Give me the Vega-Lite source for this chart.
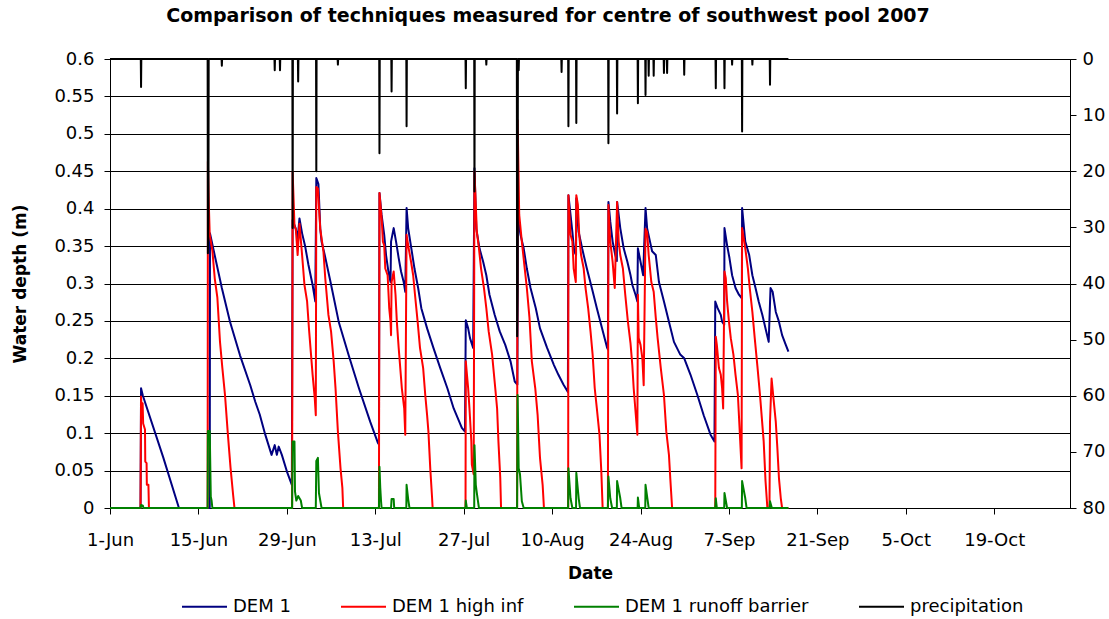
{
"$schema": "https://vega.github.io/schema/vega-lite/v6.json",
"width": 960,
"height": 449,
"autosize": {"type": "none"},
"padding": {"left": 110, "top": 59, "right": 39, "bottom": 111},
"background": "white",
"title": {"text": "Comparison of techniques measured for centre of southwest pool 2007", "font": "DejaVu Sans", "fontSize": 19, "fontWeight": "bold", "color": "black", "anchor": "middle", "dx": -42, "offset": 24},
"datasets": {
"blue": [
{"date":"2007-06-01T00:00","series":"DEM 1","depth":0},
{"date":"2007-06-05T20:00","series":"DEM 1","depth":0},
{"date":"2007-06-05T22:00","series":"DEM 1","depth":0.160},
{"date":"2007-06-06T00:00","series":"DEM 1","depth":0.157},
{"date":"2007-06-06T05:00","series":"DEM 1","depth":0.150},
{"date":"2007-06-09T10:00","series":"DEM 1","depth":0.068},
{"date":"2007-06-11T22:00","series":"DEM 1","depth":0},
{"date":"2007-06-16T19:00","series":"DEM 1","depth":0},
{"date":"2007-06-16T20:00","series":"DEM 1","depth":0.367},
{"date":"2007-06-17T10:00","series":"DEM 1","depth":0.344},
{"date":"2007-06-18T17:00","series":"DEM 1","depth":0.294},
{"date":"2007-06-20T00:00","series":"DEM 1","depth":0.249},
{"date":"2007-06-21T14:00","series":"DEM 1","depth":0.204},
{"date":"2007-06-23T05:00","series":"DEM 1","depth":0.164},
{"date":"2007-06-24T00:00","series":"DEM 1","depth":0.142},
{"date":"2007-06-24T17:00","series":"DEM 1","depth":0.125},
{"date":"2007-06-25T14:00","series":"DEM 1","depth":0.098},
{"date":"2007-06-26T14:00","series":"DEM 1","depth":0.071},
{"date":"2007-06-27T02:00","series":"DEM 1","depth":0.084},
{"date":"2007-06-27T10:00","series":"DEM 1","depth":0.071},
{"date":"2007-06-27T17:00","series":"DEM 1","depth":0.082},
{"date":"2007-06-28T05:00","series":"DEM 1","depth":0.071},
{"date":"2007-06-29T00:00","series":"DEM 1","depth":0.049},
{"date":"2007-06-29T19:00","series":"DEM 1","depth":0.031},
{"date":"2007-06-29T22:00","series":"DEM 1","depth":0.385},
{"date":"2007-06-30T10:00","series":"DEM 1","depth":0.373},
{"date":"2007-06-30T17:00","series":"DEM 1","depth":0.360},
{"date":"2007-07-01T00:00","series":"DEM 1","depth":0.387},
{"date":"2007-07-01T10:00","series":"DEM 1","depth":0.367},
{"date":"2007-07-01T22:00","series":"DEM 1","depth":0.349},
{"date":"2007-07-02T10:00","series":"DEM 1","depth":0.325},
{"date":"2007-07-03T02:00","series":"DEM 1","depth":0.298},
{"date":"2007-07-03T12:00","series":"DEM 1","depth":0.276},
{"date":"2007-07-03T16:00","series":"DEM 1","depth":0.441},
{"date":"2007-07-04T00:00","series":"DEM 1","depth":0.433},
{"date":"2007-07-04T07:00","series":"DEM 1","depth":0.373},
{"date":"2007-07-04T12:00","series":"DEM 1","depth":0.356},
{"date":"2007-07-05T00:00","series":"DEM 1","depth":0.338},
{"date":"2007-07-05T22:00","series":"DEM 1","depth":0.302},
{"date":"2007-07-07T05:00","series":"DEM 1","depth":0.249},
{"date":"2007-07-08T19:00","series":"DEM 1","depth":0.204},
{"date":"2007-07-10T10:00","series":"DEM 1","depth":0.160},
{"date":"2007-07-12T05:00","series":"DEM 1","depth":0.115},
{"date":"2007-07-13T10:00","series":"DEM 1","depth":0.087},
{"date":"2007-07-13T14:00","series":"DEM 1","depth":0.085},
{"date":"2007-07-13T16:00","series":"DEM 1","depth":0.421},
{"date":"2007-07-14T00:00","series":"DEM 1","depth":0.392},
{"date":"2007-07-14T10:00","series":"DEM 1","depth":0.365},
{"date":"2007-07-14T17:00","series":"DEM 1","depth":0.338},
{"date":"2007-07-15T02:00","series":"DEM 1","depth":0.316},
{"date":"2007-07-15T10:00","series":"DEM 1","depth":0.302},
{"date":"2007-07-15T12:00","series":"DEM 1","depth":0.356},
{"date":"2007-07-15T22:00","series":"DEM 1","depth":0.374},
{"date":"2007-07-16T07:00","series":"DEM 1","depth":0.356},
{"date":"2007-07-16T17:00","series":"DEM 1","depth":0.334},
{"date":"2007-07-17T02:00","series":"DEM 1","depth":0.316},
{"date":"2007-07-17T12:00","series":"DEM 1","depth":0.302},
{"date":"2007-07-17T18:00","series":"DEM 1","depth":0.289},
{"date":"2007-07-17T23:00","series":"DEM 1","depth":0.401},
{"date":"2007-07-18T05:00","series":"DEM 1","depth":0.374},
{"date":"2007-07-18T17:00","series":"DEM 1","depth":0.347},
{"date":"2007-07-19T05:00","series":"DEM 1","depth":0.320},
{"date":"2007-07-19T19:00","series":"DEM 1","depth":0.294},
{"date":"2007-07-20T07:00","series":"DEM 1","depth":0.267},
{"date":"2007-07-21T05:00","series":"DEM 1","depth":0.240},
{"date":"2007-07-22T05:00","series":"DEM 1","depth":0.214},
{"date":"2007-07-23T07:00","series":"DEM 1","depth":0.187},
{"date":"2007-07-24T10:00","series":"DEM 1","depth":0.160},
{"date":"2007-07-25T10:00","series":"DEM 1","depth":0.133},
{"date":"2007-07-26T17:00","series":"DEM 1","depth":0.107},
{"date":"2007-07-27T05:00","series":"DEM 1","depth":0.102},
{"date":"2007-07-27T08:00","series":"DEM 1","depth":0.251},
{"date":"2007-07-27T17:00","series":"DEM 1","depth":0.240},
{"date":"2007-07-28T00:00","series":"DEM 1","depth":0.227},
{"date":"2007-07-28T12:00","series":"DEM 1","depth":0.214},
{"date":"2007-07-28T17:00","series":"DEM 1","depth":0.454},
{"date":"2007-07-29T00:00","series":"DEM 1","depth":0.373},
{"date":"2007-07-29T12:00","series":"DEM 1","depth":0.347},
{"date":"2007-07-30T02:00","series":"DEM 1","depth":0.329},
{"date":"2007-07-30T14:00","series":"DEM 1","depth":0.311},
{"date":"2007-07-31T02:00","series":"DEM 1","depth":0.285},
{"date":"2007-07-31T22:00","series":"DEM 1","depth":0.258},
{"date":"2007-08-01T17:00","series":"DEM 1","depth":0.236},
{"date":"2007-08-02T14:00","series":"DEM 1","depth":0.218},
{"date":"2007-08-03T10:00","series":"DEM 1","depth":0.196},
{"date":"2007-08-04T02:00","series":"DEM 1","depth":0.169},
{"date":"2007-08-04T12:00","series":"DEM 1","depth":0.165},
{"date":"2007-08-04T14:00","series":"DEM 1","depth":0.387},
{"date":"2007-08-05T00:00","series":"DEM 1","depth":0.365},
{"date":"2007-08-05T12:00","series":"DEM 1","depth":0.347},
{"date":"2007-08-06T00:00","series":"DEM 1","depth":0.320},
{"date":"2007-08-06T14:00","series":"DEM 1","depth":0.294},
{"date":"2007-08-07T10:00","series":"DEM 1","depth":0.267},
{"date":"2007-08-08T02:00","series":"DEM 1","depth":0.240},
{"date":"2007-08-09T05:00","series":"DEM 1","depth":0.214},
{"date":"2007-08-10T07:00","series":"DEM 1","depth":0.191},
{"date":"2007-08-11T00:00","series":"DEM 1","depth":0.178},
{"date":"2007-08-11T19:00","series":"DEM 1","depth":0.165},
{"date":"2007-08-12T12:00","series":"DEM 1","depth":0.155},
{"date":"2007-08-12T14:00","series":"DEM 1","depth":0.418},
{"date":"2007-08-13T05:00","series":"DEM 1","depth":0.369},
{"date":"2007-08-13T12:00","series":"DEM 1","depth":0.343},
{"date":"2007-08-13T19:00","series":"DEM 1","depth":0.338},
{"date":"2007-08-13T20:00","series":"DEM 1","depth":0.414},
{"date":"2007-08-14T05:00","series":"DEM 1","depth":0.369},
{"date":"2007-08-14T18:00","series":"DEM 1","depth":0.347},
{"date":"2007-08-15T12:00","series":"DEM 1","depth":0.320},
{"date":"2007-08-16T07:00","series":"DEM 1","depth":0.294},
{"date":"2007-08-17T02:00","series":"DEM 1","depth":0.267},
{"date":"2007-08-17T22:00","series":"DEM 1","depth":0.240},
{"date":"2007-08-18T17:00","series":"DEM 1","depth":0.214},
{"date":"2007-08-18T20:00","series":"DEM 1","depth":0.212},
{"date":"2007-08-18T22:00","series":"DEM 1","depth":0.409},
{"date":"2007-08-19T05:00","series":"DEM 1","depth":0.383},
{"date":"2007-08-19T14:00","series":"DEM 1","depth":0.356},
{"date":"2007-08-20T00:00","series":"DEM 1","depth":0.338},
{"date":"2007-08-20T06:00","series":"DEM 1","depth":0.330},
{"date":"2007-08-20T07:00","series":"DEM 1","depth":0.409},
{"date":"2007-08-20T19:00","series":"DEM 1","depth":0.374},
{"date":"2007-08-21T08:00","series":"DEM 1","depth":0.347},
{"date":"2007-08-21T22:00","series":"DEM 1","depth":0.329},
{"date":"2007-08-22T10:00","series":"DEM 1","depth":0.311},
{"date":"2007-08-22T17:00","series":"DEM 1","depth":0.298},
{"date":"2007-08-23T05:00","series":"DEM 1","depth":0.285},
{"date":"2007-08-23T12:00","series":"DEM 1","depth":0.276},
{"date":"2007-08-23T14:00","series":"DEM 1","depth":0.347},
{"date":"2007-08-24T00:00","series":"DEM 1","depth":0.329},
{"date":"2007-08-24T10:00","series":"DEM 1","depth":0.311},
{"date":"2007-08-24T19:00","series":"DEM 1","depth":0.401},
{"date":"2007-08-25T01:00","series":"DEM 1","depth":0.374},
{"date":"2007-08-25T12:00","series":"DEM 1","depth":0.356},
{"date":"2007-08-25T20:00","series":"DEM 1","depth":0.343},
{"date":"2007-08-26T10:00","series":"DEM 1","depth":0.338},
{"date":"2007-08-26T22:00","series":"DEM 1","depth":0.302},
{"date":"2007-08-27T17:00","series":"DEM 1","depth":0.276},
{"date":"2007-08-28T12:00","series":"DEM 1","depth":0.249},
{"date":"2007-08-29T07:00","series":"DEM 1","depth":0.222},
{"date":"2007-08-30T07:00","series":"DEM 1","depth":0.205},
{"date":"2007-08-30T22:00","series":"DEM 1","depth":0.200},
{"date":"2007-08-31T22:00","series":"DEM 1","depth":0.178},
{"date":"2007-09-02T00:00","series":"DEM 1","depth":0.151},
{"date":"2007-09-03T00:00","series":"DEM 1","depth":0.124},
{"date":"2007-09-04T02:00","series":"DEM 1","depth":0.098},
{"date":"2007-09-04T17:00","series":"DEM 1","depth":0.089},
{"date":"2007-09-04T20:00","series":"DEM 1","depth":0.276},
{"date":"2007-09-05T05:00","series":"DEM 1","depth":0.267},
{"date":"2007-09-05T17:00","series":"DEM 1","depth":0.258},
{"date":"2007-09-05T22:00","series":"DEM 1","depth":0.249},
{"date":"2007-09-06T06:00","series":"DEM 1","depth":0.245},
{"date":"2007-09-06T07:00","series":"DEM 1","depth":0.374},
{"date":"2007-09-06T17:00","series":"DEM 1","depth":0.351},
{"date":"2007-09-07T02:00","series":"DEM 1","depth":0.334},
{"date":"2007-09-07T12:00","series":"DEM 1","depth":0.311},
{"date":"2007-09-08T01:00","series":"DEM 1","depth":0.294},
{"date":"2007-09-08T14:00","series":"DEM 1","depth":0.285},
{"date":"2007-09-09T01:00","series":"DEM 1","depth":0.280},
{"date":"2007-09-09T02:00","series":"DEM 1","depth":0.401},
{"date":"2007-09-09T14:00","series":"DEM 1","depth":0.356},
{"date":"2007-09-10T05:00","series":"DEM 1","depth":0.338},
{"date":"2007-09-10T17:00","series":"DEM 1","depth":0.311},
{"date":"2007-09-11T05:00","series":"DEM 1","depth":0.294},
{"date":"2007-09-11T17:00","series":"DEM 1","depth":0.276},
{"date":"2007-09-12T07:00","series":"DEM 1","depth":0.258},
{"date":"2007-09-12T19:00","series":"DEM 1","depth":0.240},
{"date":"2007-09-13T07:00","series":"DEM 1","depth":0.222},
{"date":"2007-09-13T14:00","series":"DEM 1","depth":0.294},
{"date":"2007-09-13T22:00","series":"DEM 1","depth":0.289},
{"date":"2007-09-14T10:00","series":"DEM 1","depth":0.262},
{"date":"2007-09-14T22:00","series":"DEM 1","depth":0.249},
{"date":"2007-09-15T10:00","series":"DEM 1","depth":0.231},
{"date":"2007-09-16T00:00","series":"DEM 1","depth":0.218},
{"date":"2007-09-16T10:00","series":"DEM 1","depth":0.209}
],
"red": [
{"date":"2007-06-01T00:00","series":"DEM 1 high inf","depth":0},
{"date":"2007-06-05T20:00","series":"DEM 1 high inf","depth":0},
{"date":"2007-06-05T22:00","series":"DEM 1 high inf","depth":0.149},
{"date":"2007-06-06T01:00","series":"DEM 1 high inf","depth":0.125},
{"date":"2007-06-06T04:00","series":"DEM 1 high inf","depth":0.140},
{"date":"2007-06-06T06:00","series":"DEM 1 high inf","depth":0.113},
{"date":"2007-06-06T13:00","series":"DEM 1 high inf","depth":0.105},
{"date":"2007-06-06T14:00","series":"DEM 1 high inf","depth":0.062},
{"date":"2007-06-06T19:00","series":"DEM 1 high inf","depth":0.060},
{"date":"2007-06-06T20:00","series":"DEM 1 high inf","depth":0.031},
{"date":"2007-06-07T02:00","series":"DEM 1 high inf","depth":0.031},
{"date":"2007-06-07T04:00","series":"DEM 1 high inf","depth":0},
{"date":"2007-06-16T11:00","series":"DEM 1 high inf","depth":0},
{"date":"2007-06-16T12:00","series":"DEM 1 high inf","depth":0.463},
{"date":"2007-06-16T16:00","series":"DEM 1 high inf","depth":0.400},
{"date":"2007-06-16T19:00","series":"DEM 1 high inf","depth":0.365},
{"date":"2007-06-17T05:00","series":"DEM 1 high inf","depth":0.344},
{"date":"2007-06-17T14:00","series":"DEM 1 high inf","depth":0.307},
{"date":"2007-06-18T00:00","series":"DEM 1 high inf","depth":0.281},
{"date":"2007-06-18T10:00","series":"DEM 1 high inf","depth":0.222},
{"date":"2007-06-18T19:00","series":"DEM 1 high inf","depth":0.187},
{"date":"2007-06-19T05:00","series":"DEM 1 high inf","depth":0.151},
{"date":"2007-06-19T16:00","series":"DEM 1 high inf","depth":0.098},
{"date":"2007-06-20T02:00","series":"DEM 1 high inf","depth":0.054},
{"date":"2007-06-20T12:00","series":"DEM 1 high inf","depth":0.017},
{"date":"2007-06-20T17:00","series":"DEM 1 high inf","depth":0},
{"date":"2007-06-29T20:00","series":"DEM 1 high inf","depth":0},
{"date":"2007-06-29T22:00","series":"DEM 1 high inf","depth":0.449},
{"date":"2007-06-30T05:00","series":"DEM 1 high inf","depth":0.377},
{"date":"2007-06-30T10:00","series":"DEM 1 high inf","depth":0.373},
{"date":"2007-06-30T17:00","series":"DEM 1 high inf","depth":0.338},
{"date":"2007-07-01T00:00","series":"DEM 1 high inf","depth":0.380},
{"date":"2007-07-01T10:00","series":"DEM 1 high inf","depth":0.338},
{"date":"2007-07-01T19:00","series":"DEM 1 high inf","depth":0.298},
{"date":"2007-07-02T05:00","series":"DEM 1 high inf","depth":0.276},
{"date":"2007-07-02T12:00","series":"DEM 1 high inf","depth":0.240},
{"date":"2007-07-03T02:00","series":"DEM 1 high inf","depth":0.178},
{"date":"2007-07-03T10:00","series":"DEM 1 high inf","depth":0.147},
{"date":"2007-07-03T14:00","series":"DEM 1 high inf","depth":0.124},
{"date":"2007-07-03T16:00","series":"DEM 1 high inf","depth":0.429},
{"date":"2007-07-03T22:00","series":"DEM 1 high inf","depth":0.427},
{"date":"2007-07-04T07:00","series":"DEM 1 high inf","depth":0.373},
{"date":"2007-07-04T19:00","series":"DEM 1 high inf","depth":0.343},
{"date":"2007-07-05T02:00","series":"DEM 1 high inf","depth":0.307},
{"date":"2007-07-05T14:00","series":"DEM 1 high inf","depth":0.258},
{"date":"2007-07-06T00:00","series":"DEM 1 high inf","depth":0.236},
{"date":"2007-07-06T10:00","series":"DEM 1 high inf","depth":0.196},
{"date":"2007-07-06T17:00","series":"DEM 1 high inf","depth":0.160},
{"date":"2007-07-07T02:00","series":"DEM 1 high inf","depth":0.102},
{"date":"2007-07-07T12:00","series":"DEM 1 high inf","depth":0.053},
{"date":"2007-07-07T19:00","series":"DEM 1 high inf","depth":0.027},
{"date":"2007-07-07T22:00","series":"DEM 1 high inf","depth":0},
{"date":"2007-07-13T14:00","series":"DEM 1 high inf","depth":0},
{"date":"2007-07-13T16:00","series":"DEM 1 high inf","depth":0.421},
{"date":"2007-07-14T01:00","series":"DEM 1 high inf","depth":0.383},
{"date":"2007-07-14T05:00","series":"DEM 1 high inf","depth":0.356},
{"date":"2007-07-14T10:00","series":"DEM 1 high inf","depth":0.351},
{"date":"2007-07-14T14:00","series":"DEM 1 high inf","depth":0.320},
{"date":"2007-07-14T23:00","series":"DEM 1 high inf","depth":0.311},
{"date":"2007-07-15T05:00","series":"DEM 1 high inf","depth":0.267},
{"date":"2007-07-15T10:00","series":"DEM 1 high inf","depth":0.249},
{"date":"2007-07-15T12:00","series":"DEM 1 high inf","depth":0.231},
{"date":"2007-07-15T14:00","series":"DEM 1 high inf","depth":0.302},
{"date":"2007-07-15T22:00","series":"DEM 1 high inf","depth":0.316},
{"date":"2007-07-16T05:00","series":"DEM 1 high inf","depth":0.285},
{"date":"2007-07-16T10:00","series":"DEM 1 high inf","depth":0.249},
{"date":"2007-07-16T17:00","series":"DEM 1 high inf","depth":0.214},
{"date":"2007-07-17T05:00","series":"DEM 1 high inf","depth":0.160},
{"date":"2007-07-17T14:00","series":"DEM 1 high inf","depth":0.133},
{"date":"2007-07-17T18:00","series":"DEM 1 high inf","depth":0.098},
{"date":"2007-07-17T23:00","series":"DEM 1 high inf","depth":0.365},
{"date":"2007-07-18T07:00","series":"DEM 1 high inf","depth":0.347},
{"date":"2007-07-18T16:00","series":"DEM 1 high inf","depth":0.329},
{"date":"2007-07-19T00:00","series":"DEM 1 high inf","depth":0.311},
{"date":"2007-07-19T07:00","series":"DEM 1 high inf","depth":0.285},
{"date":"2007-07-19T17:00","series":"DEM 1 high inf","depth":0.249},
{"date":"2007-07-20T02:00","series":"DEM 1 high inf","depth":0.214},
{"date":"2007-07-20T14:00","series":"DEM 1 high inf","depth":0.187},
{"date":"2007-07-20T22:00","series":"DEM 1 high inf","depth":0.151},
{"date":"2007-07-21T05:00","series":"DEM 1 high inf","depth":0.124},
{"date":"2007-07-21T10:00","series":"DEM 1 high inf","depth":0.102},
{"date":"2007-07-21T17:00","series":"DEM 1 high inf","depth":0.053},
{"date":"2007-07-22T00:00","series":"DEM 1 high inf","depth":0.013},
{"date":"2007-07-22T02:00","series":"DEM 1 high inf","depth":0},
{"date":"2007-07-27T07:00","series":"DEM 1 high inf","depth":0},
{"date":"2007-07-27T08:00","series":"DEM 1 high inf","depth":0.196},
{"date":"2007-07-27T17:00","series":"DEM 1 high inf","depth":0.160},
{"date":"2007-07-27T22:00","series":"DEM 1 high inf","depth":0.133},
{"date":"2007-07-28T05:00","series":"DEM 1 high inf","depth":0.089},
{"date":"2007-07-28T07:00","series":"DEM 1 high inf","depth":0.058},
{"date":"2007-07-28T14:00","series":"DEM 1 high inf","depth":0.045},
{"date":"2007-07-28T17:00","series":"DEM 1 high inf","depth":0.450},
{"date":"2007-07-29T02:00","series":"DEM 1 high inf","depth":0.369},
{"date":"2007-07-29T10:00","series":"DEM 1 high inf","depth":0.347},
{"date":"2007-07-29T18:00","series":"DEM 1 high inf","depth":0.320},
{"date":"2007-07-30T05:00","series":"DEM 1 high inf","depth":0.294},
{"date":"2007-07-30T14:00","series":"DEM 1 high inf","depth":0.267},
{"date":"2007-07-30T23:00","series":"DEM 1 high inf","depth":0.236},
{"date":"2007-07-31T12:00","series":"DEM 1 high inf","depth":0.205},
{"date":"2007-08-01T00:00","series":"DEM 1 high inf","depth":0.160},
{"date":"2007-08-01T07:00","series":"DEM 1 high inf","depth":0.133},
{"date":"2007-08-01T12:00","series":"DEM 1 high inf","depth":0.089},
{"date":"2007-08-01T19:00","series":"DEM 1 high inf","depth":0.040},
{"date":"2007-08-01T22:00","series":"DEM 1 high inf","depth":0},
{"date":"2007-08-04T11:00","series":"DEM 1 high inf","depth":0},
{"date":"2007-08-04T13:00","series":"DEM 1 high inf","depth":0.518},
{"date":"2007-08-04T19:00","series":"DEM 1 high inf","depth":0.392},
{"date":"2007-08-05T05:00","series":"DEM 1 high inf","depth":0.356},
{"date":"2007-08-05T16:00","series":"DEM 1 high inf","depth":0.320},
{"date":"2007-08-06T00:00","series":"DEM 1 high inf","depth":0.294},
{"date":"2007-08-06T10:00","series":"DEM 1 high inf","depth":0.254},
{"date":"2007-08-06T19:00","series":"DEM 1 high inf","depth":0.196},
{"date":"2007-08-07T08:00","series":"DEM 1 high inf","depth":0.160},
{"date":"2007-08-07T17:00","series":"DEM 1 high inf","depth":0.124},
{"date":"2007-08-08T02:00","series":"DEM 1 high inf","depth":0.067},
{"date":"2007-08-08T12:00","series":"DEM 1 high inf","depth":0.031},
{"date":"2007-08-08T17:00","series":"DEM 1 high inf","depth":0},
{"date":"2007-08-12T13:00","series":"DEM 1 high inf","depth":0},
{"date":"2007-08-12T14:00","series":"DEM 1 high inf","depth":0.418},
{"date":"2007-08-12T22:00","series":"DEM 1 high inf","depth":0.365},
{"date":"2007-08-13T05:00","series":"DEM 1 high inf","depth":0.356},
{"date":"2007-08-13T10:00","series":"DEM 1 high inf","depth":0.320},
{"date":"2007-08-13T18:00","series":"DEM 1 high inf","depth":0.302},
{"date":"2007-08-13T20:00","series":"DEM 1 high inf","depth":0.418},
{"date":"2007-08-14T02:00","series":"DEM 1 high inf","depth":0.405},
{"date":"2007-08-14T07:00","series":"DEM 1 high inf","depth":0.365},
{"date":"2007-08-14T14:00","series":"DEM 1 high inf","depth":0.338},
{"date":"2007-08-15T00:00","series":"DEM 1 high inf","depth":0.320},
{"date":"2007-08-15T07:00","series":"DEM 1 high inf","depth":0.294},
{"date":"2007-08-15T17:00","series":"DEM 1 high inf","depth":0.267},
{"date":"2007-08-16T02:00","series":"DEM 1 high inf","depth":0.236},
{"date":"2007-08-16T10:00","series":"DEM 1 high inf","depth":0.205},
{"date":"2007-08-16T18:00","series":"DEM 1 high inf","depth":0.160},
{"date":"2007-08-17T02:00","series":"DEM 1 high inf","depth":0.133},
{"date":"2007-08-17T12:00","series":"DEM 1 high inf","depth":0.098},
{"date":"2007-08-17T19:00","series":"DEM 1 high inf","depth":0.049},
{"date":"2007-08-18T00:00","series":"DEM 1 high inf","depth":0},
{"date":"2007-08-18T20:00","series":"DEM 1 high inf","depth":0},
{"date":"2007-08-18T22:00","series":"DEM 1 high inf","depth":0.405},
{"date":"2007-08-19T05:00","series":"DEM 1 high inf","depth":0.356},
{"date":"2007-08-19T14:00","series":"DEM 1 high inf","depth":0.329},
{"date":"2007-08-19T22:00","series":"DEM 1 high inf","depth":0.294},
{"date":"2007-08-20T07:00","series":"DEM 1 high inf","depth":0.409},
{"date":"2007-08-20T13:00","series":"DEM 1 high inf","depth":0.356},
{"date":"2007-08-20T19:00","series":"DEM 1 high inf","depth":0.338},
{"date":"2007-08-21T05:00","series":"DEM 1 high inf","depth":0.320},
{"date":"2007-08-21T14:00","series":"DEM 1 high inf","depth":0.285},
{"date":"2007-08-22T00:00","series":"DEM 1 high inf","depth":0.249},
{"date":"2007-08-22T10:00","series":"DEM 1 high inf","depth":0.220},
{"date":"2007-08-22T17:00","series":"DEM 1 high inf","depth":0.190},
{"date":"2007-08-22T22:00","series":"DEM 1 high inf","depth":0.160},
{"date":"2007-08-23T05:00","series":"DEM 1 high inf","depth":0.129},
{"date":"2007-08-23T12:00","series":"DEM 1 high inf","depth":0.098},
{"date":"2007-08-23T14:00","series":"DEM 1 high inf","depth":0.285},
{"date":"2007-08-23T17:00","series":"DEM 1 high inf","depth":0.227},
{"date":"2007-08-24T00:00","series":"DEM 1 high inf","depth":0.218},
{"date":"2007-08-24T07:00","series":"DEM 1 high inf","depth":0.200},
{"date":"2007-08-24T12:00","series":"DEM 1 high inf","depth":0.164},
{"date":"2007-08-24T19:00","series":"DEM 1 high inf","depth":0.373},
{"date":"2007-08-25T01:00","series":"DEM 1 high inf","depth":0.369},
{"date":"2007-08-25T07:00","series":"DEM 1 high inf","depth":0.338},
{"date":"2007-08-25T17:00","series":"DEM 1 high inf","depth":0.302},
{"date":"2007-08-26T02:00","series":"DEM 1 high inf","depth":0.289},
{"date":"2007-08-26T10:00","series":"DEM 1 high inf","depth":0.254},
{"date":"2007-08-26T17:00","series":"DEM 1 high inf","depth":0.227},
{"date":"2007-08-27T05:00","series":"DEM 1 high inf","depth":0.187},
{"date":"2007-08-27T17:00","series":"DEM 1 high inf","depth":0.151},
{"date":"2007-08-28T02:00","series":"DEM 1 high inf","depth":0.102},
{"date":"2007-08-28T12:00","series":"DEM 1 high inf","depth":0.071},
{"date":"2007-08-28T17:00","series":"DEM 1 high inf","depth":0.040},
{"date":"2007-08-29T00:00","series":"DEM 1 high inf","depth":0},
{"date":"2007-09-04T20:00","series":"DEM 1 high inf","depth":0},
{"date":"2007-09-04T22:00","series":"DEM 1 high inf","depth":0.229},
{"date":"2007-09-05T02:00","series":"DEM 1 high inf","depth":0.218},
{"date":"2007-09-05T10:00","series":"DEM 1 high inf","depth":0.187},
{"date":"2007-09-05T17:00","series":"DEM 1 high inf","depth":0.178},
{"date":"2007-09-05T22:00","series":"DEM 1 high inf","depth":0.160},
{"date":"2007-09-06T02:00","series":"DEM 1 high inf","depth":0.133},
{"date":"2007-09-06T07:00","series":"DEM 1 high inf","depth":0.316},
{"date":"2007-09-06T12:00","series":"DEM 1 high inf","depth":0.307},
{"date":"2007-09-06T17:00","series":"DEM 1 high inf","depth":0.276},
{"date":"2007-09-07T00:00","series":"DEM 1 high inf","depth":0.249},
{"date":"2007-09-07T07:00","series":"DEM 1 high inf","depth":0.227},
{"date":"2007-09-07T17:00","series":"DEM 1 high inf","depth":0.205},
{"date":"2007-09-08T01:00","series":"DEM 1 high inf","depth":0.178},
{"date":"2007-09-08T10:00","series":"DEM 1 high inf","depth":0.151},
{"date":"2007-09-08T17:00","series":"DEM 1 high inf","depth":0.102},
{"date":"2007-09-09T00:00","series":"DEM 1 high inf","depth":0.053},
{"date":"2007-09-09T02:00","series":"DEM 1 high inf","depth":0.374},
{"date":"2007-09-09T10:00","series":"DEM 1 high inf","depth":0.356},
{"date":"2007-09-09T14:00","series":"DEM 1 high inf","depth":0.347},
{"date":"2007-09-10T00:00","series":"DEM 1 high inf","depth":0.320},
{"date":"2007-09-10T07:00","series":"DEM 1 high inf","depth":0.294},
{"date":"2007-09-10T17:00","series":"DEM 1 high inf","depth":0.262},
{"date":"2007-09-11T02:00","series":"DEM 1 high inf","depth":0.227},
{"date":"2007-09-11T12:00","series":"DEM 1 high inf","depth":0.190},
{"date":"2007-09-11T22:00","series":"DEM 1 high inf","depth":0.151},
{"date":"2007-09-12T05:00","series":"DEM 1 high inf","depth":0.120},
{"date":"2007-09-12T12:00","series":"DEM 1 high inf","depth":0.089},
{"date":"2007-09-12T19:00","series":"DEM 1 high inf","depth":0.036},
{"date":"2007-09-13T02:00","series":"DEM 1 high inf","depth":0},
{"date":"2007-09-13T10:00","series":"DEM 1 high inf","depth":0},
{"date":"2007-09-13T12:00","series":"DEM 1 high inf","depth":0.115},
{"date":"2007-09-13T18:00","series":"DEM 1 high inf","depth":0.173},
{"date":"2007-09-14T00:00","series":"DEM 1 high inf","depth":0.151},
{"date":"2007-09-14T10:00","series":"DEM 1 high inf","depth":0.115},
{"date":"2007-09-14T16:00","series":"DEM 1 high inf","depth":0.080},
{"date":"2007-09-14T22:00","series":"DEM 1 high inf","depth":0.040},
{"date":"2007-09-15T05:00","series":"DEM 1 high inf","depth":0.013},
{"date":"2007-09-15T10:00","series":"DEM 1 high inf","depth":0},
{"date":"2007-09-16T10:00","series":"DEM 1 high inf","depth":0}
],
"green": [
{"date":"2007-06-01T00:00","series":"DEM 1 runoff barrier","depth":0},
{"date":"2007-06-05T20:00","series":"DEM 1 runoff barrier","depth":0},
{"date":"2007-06-05T22:00","series":"DEM 1 runoff barrier","depth":0.004},
{"date":"2007-06-06T05:00","series":"DEM 1 runoff barrier","depth":0.003},
{"date":"2007-06-06T07:00","series":"DEM 1 runoff barrier","depth":0},
{"date":"2007-06-16T11:00","series":"DEM 1 runoff barrier","depth":0},
{"date":"2007-06-16T12:00","series":"DEM 1 runoff barrier","depth":0.103},
{"date":"2007-06-16T19:00","series":"DEM 1 runoff barrier","depth":0.103},
{"date":"2007-06-16T23:00","series":"DEM 1 runoff barrier","depth":0.015},
{"date":"2007-06-17T02:00","series":"DEM 1 runoff barrier","depth":0.010},
{"date":"2007-06-17T05:00","series":"DEM 1 runoff barrier","depth":0},
{"date":"2007-06-29T20:00","series":"DEM 1 runoff barrier","depth":0},
{"date":"2007-06-29T22:00","series":"DEM 1 runoff barrier","depth":0.089},
{"date":"2007-06-30T05:00","series":"DEM 1 runoff barrier","depth":0.089},
{"date":"2007-06-30T07:00","series":"DEM 1 runoff barrier","depth":0.022},
{"date":"2007-06-30T12:00","series":"DEM 1 runoff barrier","depth":0.010},
{"date":"2007-06-30T19:00","series":"DEM 1 runoff barrier","depth":0.016},
{"date":"2007-07-01T05:00","series":"DEM 1 runoff barrier","depth":0.010},
{"date":"2007-07-01T10:00","series":"DEM 1 runoff barrier","depth":0},
{"date":"2007-07-03T14:00","series":"DEM 1 runoff barrier","depth":0},
{"date":"2007-07-03T16:00","series":"DEM 1 runoff barrier","depth":0.063},
{"date":"2007-07-03T22:00","series":"DEM 1 runoff barrier","depth":0.067},
{"date":"2007-07-04T02:00","series":"DEM 1 runoff barrier","depth":0.020},
{"date":"2007-07-04T12:00","series":"DEM 1 runoff barrier","depth":0},
{"date":"2007-07-13T14:00","series":"DEM 1 runoff barrier","depth":0},
{"date":"2007-07-13T16:00","series":"DEM 1 runoff barrier","depth":0.055},
{"date":"2007-07-13T19:00","series":"DEM 1 runoff barrier","depth":0.027},
{"date":"2007-07-13T22:00","series":"DEM 1 runoff barrier","depth":0.009},
{"date":"2007-07-14T00:00","series":"DEM 1 runoff barrier","depth":0},
{"date":"2007-07-15T12:00","series":"DEM 1 runoff barrier","depth":0},
{"date":"2007-07-15T14:00","series":"DEM 1 runoff barrier","depth":0.012},
{"date":"2007-07-15T22:00","series":"DEM 1 runoff barrier","depth":0.012},
{"date":"2007-07-16T00:00","series":"DEM 1 runoff barrier","depth":0},
{"date":"2007-07-17T22:00","series":"DEM 1 runoff barrier","depth":0},
{"date":"2007-07-17T23:00","series":"DEM 1 runoff barrier","depth":0.031},
{"date":"2007-07-18T05:00","series":"DEM 1 runoff barrier","depth":0.012},
{"date":"2007-07-18T10:00","series":"DEM 1 runoff barrier","depth":0},
{"date":"2007-07-27T07:00","series":"DEM 1 runoff barrier","depth":0},
{"date":"2007-07-27T08:00","series":"DEM 1 runoff barrier","depth":0.010},
{"date":"2007-07-27T12:00","series":"DEM 1 runoff barrier","depth":0},
{"date":"2007-07-28T16:00","series":"DEM 1 runoff barrier","depth":0},
{"date":"2007-07-28T17:00","series":"DEM 1 runoff barrier","depth":0.084},
{"date":"2007-07-28T22:00","series":"DEM 1 runoff barrier","depth":0.031},
{"date":"2007-07-29T02:00","series":"DEM 1 runoff barrier","depth":0.020},
{"date":"2007-07-29T10:00","series":"DEM 1 runoff barrier","depth":0},
{"date":"2007-08-04T11:00","series":"DEM 1 runoff barrier","depth":0},
{"date":"2007-08-04T13:00","series":"DEM 1 runoff barrier","depth":0.151},
{"date":"2007-08-04T17:00","series":"DEM 1 runoff barrier","depth":0.053},
{"date":"2007-08-04T22:00","series":"DEM 1 runoff barrier","depth":0.045},
{"date":"2007-08-05T05:00","series":"DEM 1 runoff barrier","depth":0.009},
{"date":"2007-08-05T12:00","series":"DEM 1 runoff barrier","depth":0},
{"date":"2007-08-12T13:00","series":"DEM 1 runoff barrier","depth":0},
{"date":"2007-08-12T14:00","series":"DEM 1 runoff barrier","depth":0.053},
{"date":"2007-08-12T22:00","series":"DEM 1 runoff barrier","depth":0.013},
{"date":"2007-08-13T05:00","series":"DEM 1 runoff barrier","depth":0},
{"date":"2007-08-13T19:00","series":"DEM 1 runoff barrier","depth":0},
{"date":"2007-08-13T20:00","series":"DEM 1 runoff barrier","depth":0.047},
{"date":"2007-08-14T05:00","series":"DEM 1 runoff barrier","depth":0.013},
{"date":"2007-08-14T10:00","series":"DEM 1 runoff barrier","depth":0},
{"date":"2007-08-18T20:00","series":"DEM 1 runoff barrier","depth":0},
{"date":"2007-08-18T22:00","series":"DEM 1 runoff barrier","depth":0.042},
{"date":"2007-08-19T05:00","series":"DEM 1 runoff barrier","depth":0.013},
{"date":"2007-08-19T12:00","series":"DEM 1 runoff barrier","depth":0},
{"date":"2007-08-20T06:00","series":"DEM 1 runoff barrier","depth":0},
{"date":"2007-08-20T07:00","series":"DEM 1 runoff barrier","depth":0.036},
{"date":"2007-08-20T19:00","series":"DEM 1 runoff barrier","depth":0.013},
{"date":"2007-08-21T00:00","series":"DEM 1 runoff barrier","depth":0},
{"date":"2007-08-23T13:00","series":"DEM 1 runoff barrier","depth":0},
{"date":"2007-08-23T14:00","series":"DEM 1 runoff barrier","depth":0.014},
{"date":"2007-08-23T19:00","series":"DEM 1 runoff barrier","depth":0},
{"date":"2007-08-24T18:00","series":"DEM 1 runoff barrier","depth":0},
{"date":"2007-08-24T19:00","series":"DEM 1 runoff barrier","depth":0.031},
{"date":"2007-08-25T02:00","series":"DEM 1 runoff barrier","depth":0.013},
{"date":"2007-08-25T07:00","series":"DEM 1 runoff barrier","depth":0},
{"date":"2007-09-04T20:00","series":"DEM 1 runoff barrier","depth":0},
{"date":"2007-09-04T22:00","series":"DEM 1 runoff barrier","depth":0.013},
{"date":"2007-09-05T02:00","series":"DEM 1 runoff barrier","depth":0},
{"date":"2007-09-06T06:00","series":"DEM 1 runoff barrier","depth":0},
{"date":"2007-09-06T07:00","series":"DEM 1 runoff barrier","depth":0.020},
{"date":"2007-09-06T17:00","series":"DEM 1 runoff barrier","depth":0},
{"date":"2007-09-09T01:00","series":"DEM 1 runoff barrier","depth":0},
{"date":"2007-09-09T02:00","series":"DEM 1 runoff barrier","depth":0.036},
{"date":"2007-09-09T14:00","series":"DEM 1 runoff barrier","depth":0.013},
{"date":"2007-09-09T19:00","series":"DEM 1 runoff barrier","depth":0},
{"date":"2007-09-13T11:00","series":"DEM 1 runoff barrier","depth":0},
{"date":"2007-09-13T12:00","series":"DEM 1 runoff barrier","depth":0.009},
{"date":"2007-09-13T19:00","series":"DEM 1 runoff barrier","depth":0},
{"date":"2007-09-16T10:00","series":"DEM 1 runoff barrier","depth":0}
],
"rain": [
{"date":"2007-06-01T00:00","series":"precipitation","precip":0},
{"date":"2007-06-05T21:00","series":"precipitation","precip":0},
{"date":"2007-06-05T22:00","series":"precipitation","precip":5.0},
{"date":"2007-06-05T23:00","series":"precipitation","precip":0},
{"date":"2007-06-16T11:00","series":"precipitation","precip":0},
{"date":"2007-06-16T12:00","series":"precipitation","precip":34.6},
{"date":"2007-06-16T14:00","series":"precipitation","precip":28.0},
{"date":"2007-06-16T15:00","series":"precipitation","precip":0},
{"date":"2007-06-18T16:00","series":"precipitation","precip":0},
{"date":"2007-06-18T17:00","series":"precipitation","precip":1.2},
{"date":"2007-06-18T18:00","series":"precipitation","precip":0},
{"date":"2007-06-27T01:00","series":"precipitation","precip":0},
{"date":"2007-06-27T02:00","series":"precipitation","precip":2.0},
{"date":"2007-06-27T03:00","series":"precipitation","precip":0},
{"date":"2007-06-27T21:00","series":"precipitation","precip":0},
{"date":"2007-06-27T22:00","series":"precipitation","precip":2.0},
{"date":"2007-06-27T23:00","series":"precipitation","precip":0},
{"date":"2007-06-29T21:00","series":"precipitation","precip":0},
{"date":"2007-06-29T22:00","series":"precipitation","precip":30.1},
{"date":"2007-06-29T23:00","series":"precipitation","precip":0},
{"date":"2007-06-30T18:00","series":"precipitation","precip":0},
{"date":"2007-06-30T19:00","series":"precipitation","precip":4.0},
{"date":"2007-06-30T20:00","series":"precipitation","precip":0},
{"date":"2007-07-03T15:00","series":"precipitation","precip":0},
{"date":"2007-07-03T16:00","series":"precipitation","precip":20.0},
{"date":"2007-07-03T17:00","series":"precipitation","precip":0},
{"date":"2007-07-07T01:00","series":"precipitation","precip":0},
{"date":"2007-07-07T02:00","series":"precipitation","precip":1.0},
{"date":"2007-07-07T03:00","series":"precipitation","precip":0},
{"date":"2007-07-13T15:00","series":"precipitation","precip":0},
{"date":"2007-07-13T16:00","series":"precipitation","precip":16.8},
{"date":"2007-07-13T17:00","series":"precipitation","precip":0},
{"date":"2007-07-15T13:00","series":"precipitation","precip":0},
{"date":"2007-07-15T14:00","series":"precipitation","precip":5.8},
{"date":"2007-07-15T15:00","series":"precipitation","precip":0},
{"date":"2007-07-17T22:00","series":"precipitation","precip":0},
{"date":"2007-07-17T23:00","series":"precipitation","precip":12.0},
{"date":"2007-07-18T00:00","series":"precipitation","precip":0},
{"date":"2007-07-27T07:00","series":"precipitation","precip":0},
{"date":"2007-07-27T08:00","series":"precipitation","precip":5.2},
{"date":"2007-07-27T09:00","series":"precipitation","precip":0},
{"date":"2007-07-28T16:00","series":"precipitation","precip":0},
{"date":"2007-07-28T17:00","series":"precipitation","precip":23.6},
{"date":"2007-07-28T18:00","series":"precipitation","precip":0},
{"date":"2007-07-30T13:00","series":"precipitation","precip":0},
{"date":"2007-07-30T14:00","series":"precipitation","precip":1.0},
{"date":"2007-07-30T15:00","series":"precipitation","precip":0},
{"date":"2007-08-04T10:00","series":"precipitation","precip":0},
{"date":"2007-08-04T11:00","series":"precipitation","precip":49.4},
{"date":"2007-08-04T13:00","series":"precipitation","precip":40.0},
{"date":"2007-08-04T14:00","series":"precipitation","precip":0},
{"date":"2007-08-04T16:00","series":"precipitation","precip":0},
{"date":"2007-08-04T17:00","series":"precipitation","precip":2.0},
{"date":"2007-08-04T18:00","series":"precipitation","precip":0},
{"date":"2007-08-11T11:00","series":"precipitation","precip":0},
{"date":"2007-08-11T12:00","series":"precipitation","precip":2.3},
{"date":"2007-08-11T13:00","series":"precipitation","precip":0},
{"date":"2007-08-12T13:00","series":"precipitation","precip":0},
{"date":"2007-08-12T14:00","series":"precipitation","precip":12.0},
{"date":"2007-08-12T15:00","series":"precipitation","precip":0},
{"date":"2007-08-13T19:00","series":"precipitation","precip":0},
{"date":"2007-08-13T20:00","series":"precipitation","precip":11.4},
{"date":"2007-08-13T21:00","series":"precipitation","precip":0},
{"date":"2007-08-18T21:00","series":"precipitation","precip":0},
{"date":"2007-08-18T22:00","series":"precipitation","precip":15.0},
{"date":"2007-08-18T23:00","series":"precipitation","precip":0},
{"date":"2007-08-20T06:00","series":"precipitation","precip":0},
{"date":"2007-08-20T07:00","series":"precipitation","precip":9.7},
{"date":"2007-08-20T08:00","series":"precipitation","precip":0},
{"date":"2007-08-23T13:00","series":"precipitation","precip":0},
{"date":"2007-08-23T14:00","series":"precipitation","precip":7.9},
{"date":"2007-08-23T15:00","series":"precipitation","precip":0},
{"date":"2007-08-24T18:00","series":"precipitation","precip":0},
{"date":"2007-08-24T19:00","series":"precipitation","precip":6.4},
{"date":"2007-08-24T20:00","series":"precipitation","precip":0},
{"date":"2007-08-25T06:00","series":"precipitation","precip":0},
{"date":"2007-08-25T07:00","series":"precipitation","precip":3.0},
{"date":"2007-08-25T08:00","series":"precipitation","precip":0},
{"date":"2007-08-26T01:00","series":"precipitation","precip":0},
{"date":"2007-08-26T02:00","series":"precipitation","precip":3.0},
{"date":"2007-08-26T03:00","series":"precipitation","precip":0},
{"date":"2007-08-27T16:00","series":"precipitation","precip":0},
{"date":"2007-08-27T17:00","series":"precipitation","precip":2.5},
{"date":"2007-08-27T18:00","series":"precipitation","precip":0},
{"date":"2007-08-28T04:00","series":"precipitation","precip":0},
{"date":"2007-08-28T05:00","series":"precipitation","precip":2.5},
{"date":"2007-08-28T06:00","series":"precipitation","precip":0},
{"date":"2007-08-30T21:00","series":"precipitation","precip":0},
{"date":"2007-08-30T22:00","series":"precipitation","precip":2.8},
{"date":"2007-08-30T23:00","series":"precipitation","precip":0},
{"date":"2007-09-04T21:00","series":"precipitation","precip":0},
{"date":"2007-09-04T22:00","series":"precipitation","precip":5.2},
{"date":"2007-09-04T23:00","series":"precipitation","precip":0},
{"date":"2007-09-06T06:00","series":"precipitation","precip":0},
{"date":"2007-09-06T07:00","series":"precipitation","precip":5.2},
{"date":"2007-09-06T08:00","series":"precipitation","precip":0},
{"date":"2007-09-07T11:00","series":"precipitation","precip":0},
{"date":"2007-09-07T12:00","series":"precipitation","precip":1.0},
{"date":"2007-09-07T13:00","series":"precipitation","precip":0},
{"date":"2007-09-09T01:00","series":"precipitation","precip":0},
{"date":"2007-09-09T02:00","series":"precipitation","precip":12.9},
{"date":"2007-09-09T03:00","series":"precipitation","precip":0},
{"date":"2007-09-10T16:00","series":"precipitation","precip":0},
{"date":"2007-09-10T17:00","series":"precipitation","precip":1.0},
{"date":"2007-09-10T18:00","series":"precipitation","precip":0},
{"date":"2007-09-13T11:00","series":"precipitation","precip":0},
{"date":"2007-09-13T12:00","series":"precipitation","precip":4.6},
{"date":"2007-09-13T13:00","series":"precipitation","precip":0},
{"date":"2007-09-16T10:00","series":"precipitation","precip":0}
]
},
"encoding": {
  "x": {"field": "date", "type": "temporal",
    "scale": {"domain": [{"year": 2007, "month": 6, "date": 1}, {"year": 2007, "month": 10, "date": 31}], "nice": false},
    "axis": {"title": "Date", "format": "%-d-%b", "grid": false,
      "values": [{"year":2007,"month":6,"date":1},{"year":2007,"month":6,"date":15},{"year":2007,"month":6,"date":29},{"year":2007,"month":7,"date":13},{"year":2007,"month":7,"date":27},{"year":2007,"month":8,"date":10},{"year":2007,"month":8,"date":24},{"year":2007,"month":9,"date":7},{"year":2007,"month":9,"date":21},{"year":2007,"month":10,"date":5},{"year":2007,"month":10,"date":19}],
      "labelPadding": 17, "titlePadding": 16, "labelFlush": false, "labelOverlap": false}},
  "color": {"field": "series", "type": "nominal",
    "scale": {"domain": ["DEM 1", "DEM 1 high inf", "DEM 1 runoff barrier", "precipitation"], "range": ["#000080", "#FF0000", "#008000", "#000000"]},
    "legend": {"orient": "none", "legendX": 71, "legendY": 524, "direction": "horizontal", "title": null, "symbolType": "stroke", "symbolSize": 2025, "symbolStrokeWidth": 2, "labelFontSize": 18, "labelFont": "DejaVu Sans", "labelColor": "black", "labelOffset": 5, "columnPadding": 46, "padding": 0, "labelLimit": 400}}
},
"layer": [
  {
    "encoding": {
      "y": {"field": "depth", "type": "quantitative",
        "scale": {"domain": [0, 0.6], "nice": false, "zero": true},
        "axis": {"title": "Water depth (m)", "orient": "left", "values": [0, 0.05, 0.1, 0.15, 0.2, 0.25, 0.3, 0.35, 0.4, 0.45, 0.5, 0.55, 0.6], "format": "~g", "grid": true, "gridColor": "black", "gridOpacity": 1, "gridWidth": 1, "labelPadding": 10, "titlePadding": 24, "labelFlush": false}}
    },
    "layer": [
      {"data": {"name": "blue"}, "mark": {"type": "line", "strokeWidth": 2, "strokeJoin": "round"}},
      {"data": {"name": "red"}, "mark": {"type": "line", "strokeWidth": 2, "strokeJoin": "round"}},
      {"data": {"name": "green"}, "mark": {"type": "line", "strokeWidth": 2, "strokeJoin": "round"}}
    ]
  },
  {
    "data": {"name": "rain"},
    "mark": {"type": "line", "strokeWidth": 2, "strokeJoin": "round"},
    "encoding": {
      "y": {"field": "precip", "type": "quantitative",
        "scale": {"domain": [0, 80], "reverse": true, "nice": false},
        "axis": {"title": null, "orient": "right", "values": [0, 10, 20, 30, 40, 50, 60, 70, 80], "grid": false, "labelPadding": 6, "labelFlush": false}}
    }
  }
],
"resolve": {"scale": {"y": "independent"}},
"config": {
  "font": "DejaVu Sans",
  "view": {"stroke": "black", "strokeWidth": 1},
  "axis": {"domainColor": "black", "tickColor": "black", "labelColor": "black", "titleColor": "black", "labelFontSize": 18, "titleFontSize": 17, "titleFontWeight": "bold", "tickSize": 6, "labelFont": "DejaVu Sans", "titleFont": "DejaVu Sans", "domainWidth": 1, "tickWidth": 1}
}
}
